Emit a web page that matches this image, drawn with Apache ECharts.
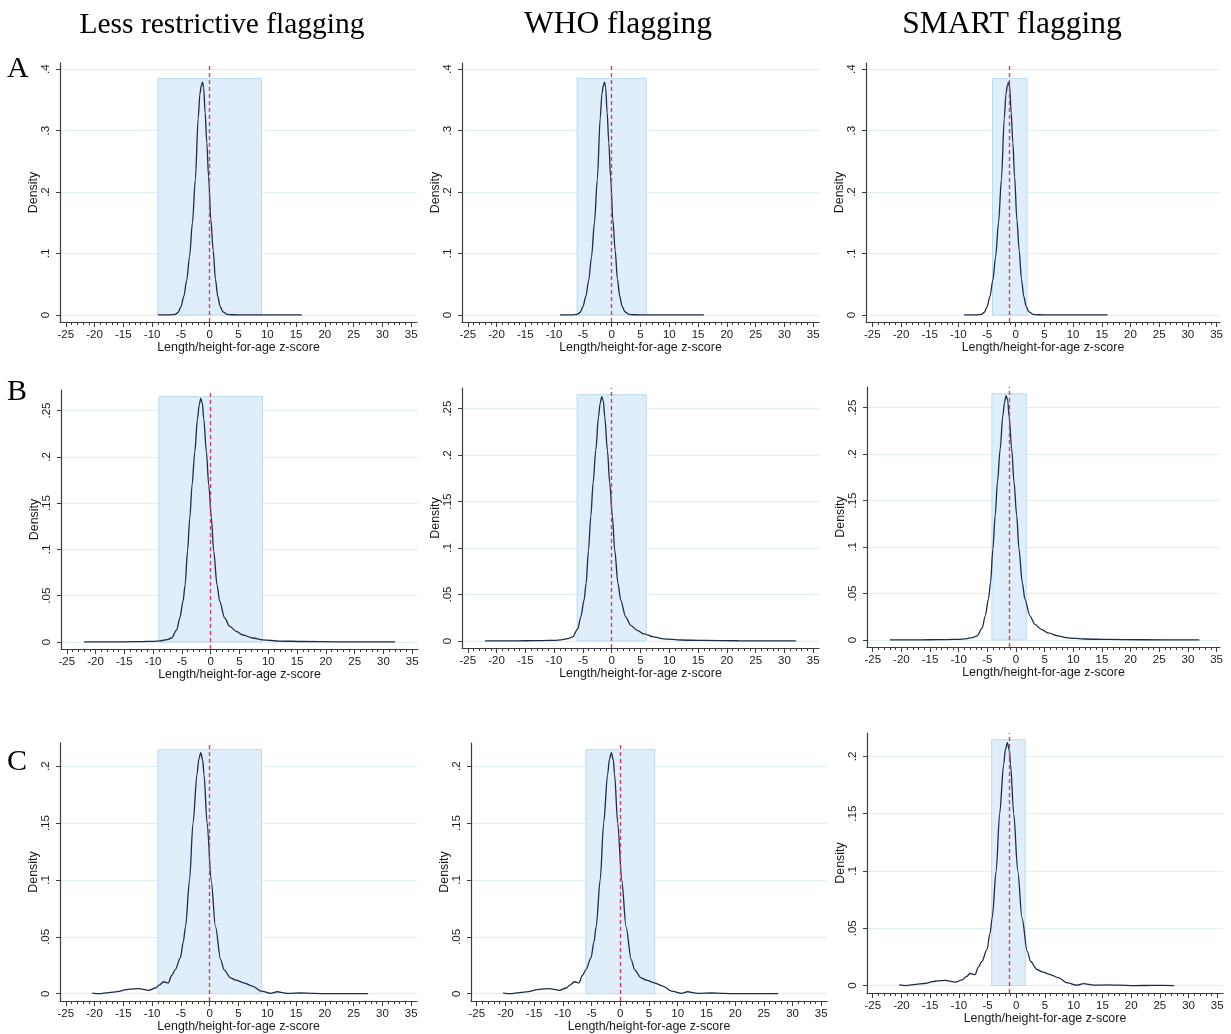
<!DOCTYPE html>
<html>
<head>
<meta charset="utf-8">
<title>Length/height-for-age z-score densities</title>
<script src="https://cdn.jsdelivr.net/npm/echarts@6/dist/echarts.min.js"></script>
<style>
  html, body { margin: 0; padding: 0; background: #fff; }
  #chart { width: 1231px; height: 1034px; }
</style>
</head>
<body>
<div id="chart"></div>
<script>
// headers
const columnTitles = ['Less restrictive flagging', 'WHO flagging', 'SMART flagging'];
const rowLetters = ['A', 'B', 'C'];

// axis ticks
const xTicks = [-25, -20, -15, -10, -5, 0, 5, 10, 15, 20, 25, 30, 35];
const xMinorTicks = [];
for (let v = -25; v <= 35; v++) xMinorTicks.push(v);
const yTicksA = [0, 0.1, 0.2, 0.3, 0.4];
const yTicksB = [0, 0.05, 0.1, 0.15, 0.2, 0.25];
const yTicksC = [0, 0.05, 0.1, 0.15, 0.2];

// kernel density curves (same curve in all three columns of a row)
const zA = [-9, -7, -6, -5.5, -5, -4.5, -4, -3.5, -3, -2.5, -2, -1.7, -1.45, -1.25, -1.05, -0.8, -0.5, -0.2, 0.2, 0.6, 1.0, 1.4, 1.8, 2.3, 3, 4, 6, 10, 16];
const densA = [0, 0.0002, 0.001, 0.004, 0.013, 0.03, 0.056, 0.095, 0.15, 0.22, 0.32, 0.36, 0.374, 0.379, 0.37, 0.33, 0.28, 0.225, 0.155, 0.105, 0.058, 0.03, 0.014, 0.005, 0.001, 0.0003, 0, 0, 0];

const zB = [-22, -18, -15, -12, -10, -8.8, -7.6, -6.8, -5.9, -5.36, -4.8, -4.44, -4.03, -3.63, -3.23, -2.77, -2.3, -2.0, -1.73, -1.45, -1.21, -0.74, -0.35, 0.12, 0.52, 1.09, 1.56, 2.42, 3.3, 4.44, 5.6, 7.3, 9, 12, 16, 22, 32];
const densB = [0, 0.0001, 0.0002, 0.0004, 0.0007, 0.0012, 0.0025, 0.0043, 0.013, 0.026, 0.044, 0.062, 0.098, 0.134, 0.17, 0.205, 0.241, 0.256, 0.263, 0.258, 0.241, 0.205, 0.17, 0.134, 0.098, 0.062, 0.044, 0.026, 0.0168, 0.0114, 0.0075, 0.0043, 0.0022, 0.001, 0.0005, 0.0002, 0];

const zC = [-20.4, -19.2, -17.5, -16, -14.5, -13.8, -12.3, -11.2, -10.6, -9.4, -8.8, -8.0, -7.2, -6.6, -6.0, -5.1, -4.6, -4.2, -3.5, -2.9, -2.2, -1.9, -1.55, -1.2, -1.0, -0.45, 0.25, 1.0, 1.9, 2.5, 3.6, 4.5, 5.9, 7.4, 8.9, 10.6, 11.7, 13.5, 15.8, 18, 20.4, 24, 27.5];
const densC = [0.0005, 0, 0.001, 0.0018, 0.0035, 0.004, 0.0045, 0.0035, 0.003, 0.005, 0.0075, 0.0105, 0.0095, 0.016, 0.021, 0.0315, 0.045, 0.059, 0.1, 0.15, 0.193, 0.206, 0.212, 0.205, 0.193, 0.15, 0.1, 0.059, 0.03, 0.021, 0.014, 0.012, 0.0096, 0.0067, 0.0023, 0.0003, 0.0017, 0.0003, 0.0006, 0.0003, 0, 0.0001, 0];

// flagging limits per column (LRF, WHO, SMART), reference line and box height
const flagLimitsA = [[-9, 9], [-6, 6], [-4.05, 1.95]];
const flagLimitsB = [[-9, 9], [-6, 6], [-4.2, 1.8]];
const flagLimitsC = [[-9, 9], [-6, 6], [-4.3, 1.55]];
const refLineA = [0, 0, -1.05];
const refLineB = [0, 0, -1.2];
const refLineC = [0, 0, -1.2];
const boxTop = [0.385, 0.265, 0.2145];

const rows = [
  { z: zA, d: densA, ticks: yTicksA, limits: flagLimitsA, ref: refLineA, yRange: [-0.0115, 0.41] },
  { z: zB, d: densB, ticks: yTicksB, limits: flagLimitsB, ref: refLineB, yRange: [-0.0076, 0.2722] },
  { z: zC, d: densC, ticks: yTicksC, limits: flagLimitsC, ref: refLineC, yRange: [-0.0065, 0.2204] }
];

// panel boxes in px: y-axis x, right edge, top, x-axis y
const layout = [
  [{ l: 60, r: 417, t: 63, b: 322, x: [-26, 36] }, { l: 462, r: 819, t: 63, b: 322, x: [-26, 36] }, { l: 866, r: 1220, t: 63, b: 322, x: [-26.1, 35.6] }],
  [{ l: 61, r: 418, t: 390, b: 649, x: [-26, 36] }, { l: 462, r: 819, t: 388, b: 648, x: [-26, 36] }, { l: 867, r: 1220, t: 387, b: 647, x: [-26, 35.6] }],
  [{ l: 60, r: 417, t: 743, b: 1002, x: [-26, 36] }, { l: 471, r: 827, t: 743, b: 1002, x: [-26, 36] }, { l: 867, r: 1223, t: 733, b: 993, x: [-26, 36] }]
];

const SANS = '"Liberation Sans", Arial, sans-serif';
const SERIF = '"Liberation Serif", "Times New Roman", serif';
const axisColor = '#3c3c3c';
const fmtY = v => v === 0 ? '0' : String(+v.toFixed(2)).replace(/^0/, '');

const grids = [], xAxes = [], yAxes = [], series = [];

rows.forEach((row, r) => {
  const pts = row.z.map((z, i) => [z, row.d[i]]);
  for (let c = 0; c < 3; c++) {
    const L = layout[r][c];
    const gi = grids.length;
    grids.push({ left: L.l, top: L.t, width: L.r - L.l, height: L.b - L.t });

    xAxes.push({
      type: 'value', gridIndex: gi, position: 'bottom', min: L.x[0], max: L.x[1],
      axisLine: { show: true, onZero: false, lineStyle: { color: axisColor, width: 1.2 } },
      axisTick: { customValues: xTicks, length: 5, lineStyle: { color: axisColor } },
      axisLabel: { customValues: xTicks, margin: 7, fontSize: 11.5, fontFamily: SANS, color: '#1a1a1a' },
      splitLine: { show: false },
      name: 'Length/height-for-age z-score', nameLocation: 'middle', nameGap: 19,
      nameTextStyle: { fontSize: 12.4, fontFamily: SANS, color: '#1a1a1a' }
    });
    xAxes.push({
      type: 'value', gridIndex: gi, position: 'bottom', min: L.x[0], max: L.x[1],
      axisLine: { show: false, onZero: false },
      axisTick: { customValues: xMinorTicks, length: 3, lineStyle: { color: axisColor } },
      axisLabel: { show: false },
      splitLine: { show: false }
    });
    yAxes.push({
      type: 'value', gridIndex: gi, position: 'left', min: row.yRange[0], max: row.yRange[1],
      axisLine: { show: true, onZero: false, lineStyle: { color: axisColor, width: 1.2 } },
      axisTick: { show: true, customValues: row.ticks, length: 4, lineStyle: { color: axisColor } },
      axisLabel: { customValues: row.ticks, rotate: 90, margin: 8, fontSize: 11.5, fontFamily: SANS, color: '#1a1a1a', formatter: fmtY },
      splitLine: { show: true, lineStyle: { color: '#e2edf2', width: 1 } },
      name: 'Density', nameLocation: 'middle', nameGap: 18, nameRotate: 90,
      nameTextStyle: { fontSize: 12.4, fontFamily: SANS, color: '#1a1a1a' }
    });

    series.push({
      type: 'line', xAxisIndex: 2 * gi, yAxisIndex: gi, data: pts,
      showSymbol: false, smooth: 0.3, smoothMonotone: 'x', z: 3,
      lineStyle: { color: '#1d2b4f', width: 1.3 },
      silent: true, animation: false,
      markArea: {
        silent: true, z: 1,
        itemStyle: { color: '#dfeef8', borderColor: '#b9dbf1', borderWidth: 1 },
        data: [[{ coord: [row.limits[c][0], 0] }, { coord: [row.limits[c][1], boxTop[r]] }]]
      },
      markLine: {
        silent: true, symbol: 'none', z: 4, animation: false,
        label: { show: false },
        lineStyle: { color: '#d43f66', type: [4, 3], width: 1.4 },
        data: [{ xAxis: row.ref[c] }]
      }
    });
  }
});

const graphic = [];
const titleX = [222, 618, 1012];
const titleSize = [29.5, 31.5, 31.5];
columnTitles.forEach((t, i) => {
  graphic.push({ type: 'text', x: titleX[i], y: 25, style: { text: t, fontSize: titleSize[i], fontFamily: SERIF, fill: '#000', align: 'center', verticalAlign: 'middle' } });
});
const letterY = [69, 392, 762];
rowLetters.forEach((t, i) => {
  graphic.push({ type: 'text', x: 7, y: letterY[i], style: { text: t, fontSize: 30, fontFamily: SERIF, fill: '#000', align: 'left', verticalAlign: 'middle' } });
});

const chart = echarts.init(document.getElementById('chart'), null, { renderer: 'canvas' });
chart.setOption({
  animation: false,
  backgroundColor: '#fff',
  grid: grids,
  xAxis: xAxes,
  yAxis: yAxes,
  series: series,
  graphic: graphic
});
</script>
</body>
</html>
